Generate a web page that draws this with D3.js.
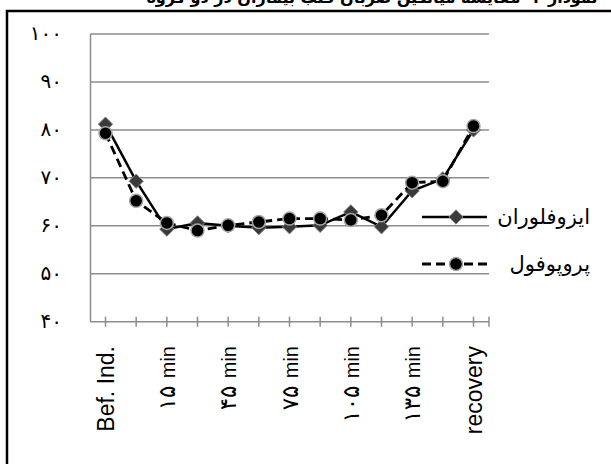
<!DOCTYPE html>
<html>
<head>
<meta charset="utf-8">
<script src="https://cdn.jsdelivr.net/npm/d3@7"></script>
<style>
  body { margin: 0; background: #fff; }
  svg { display: block; }
</style>
</head>
<body>
<div id="chart"></div>
<script>
// Data
var categories = ["Bef. Ind.", "Aft. Ind.", "۱۵ min", "۳۰ min", "۴۵ min", "۶۰ min", "۷۵ min",
  "۹۰ min", "۱۰۵ min", "۱۲۰ min", "۱۳۵ min", "۱۵۰ min", "recovery"];
var isoflurane = [81.2, 69.3, 59.3, 60.6, 60.0, 59.6, 59.8, 60.1, 62.9, 59.8, 67.3, 69.8, 80.0];
var propofol = [79.3, 65.2, 60.6, 59.0, 60.1, 60.8, 61.5, 61.5, 61.2, 62.2, 69.0, 69.3, 80.8];
var seriesNames = ["ایزوفلوران", "پروپوفول"];
var yTicks = [40, 50, 60, 70, 80, 90, 100];
var chartTitle = "نمودار ۲- مقایسه میانگین ضربان قلب بیماران در دو گروه";

var svgWidth = 611;
var svgHeight = 464;

var svg = d3.select("#chart")
  .append("svg")
  .attr("width", svgWidth)
  .attr("height", svgHeight);

// plot area
var plotLeft = 90.5, plotRight = 489, plotTop = 34, plotBottom = 321.7;

var xScale = d3.scalePoint()
  .domain(categories)
  .range([105.5, 473.5]);

var yScale = d3.scaleLinear()
  .domain([40, 100])
  .range([plotBottom, plotTop]);

function toPersian(s) {
  return String(s).replace(/[0-9]/g, function(d) { return "۰۱۲۳۴۵۶۷۸۹"[+d]; });
}

// title, cut off at the top of the frame as in the source
svg.append("text")
  .attr("x", 372)
  .attr("y", 3)
  .attr("text-anchor", "middle")
  .style("font-family", "DejaVu Sans")
  .style("font-weight", "bold")
  .style("font-size", "16px")
  .text(chartTitle);

// outer chart border (only top and left show)
svg.append("path")
  .attr("d", "M7,464 L7,11 L611,11")
  .attr("fill", "none")
  .attr("stroke", "#000")
  .attr("stroke-width", 2.5);

// gridlines
svg.append("g")
  .selectAll("line")
  .data(yTicks.slice(1))
  .enter()
  .append("line")
  .attr("x1", plotLeft)
  .attr("x2", plotRight)
  .attr("y1", d => yScale(d))
  .attr("y2", d => yScale(d))
  .attr("stroke", "#8c8c8c")
  .attr("stroke-width", 1.5);

// y axis line
svg.append("line")
  .attr("x1", plotLeft).attr("x2", plotLeft)
  .attr("y1", plotTop).attr("y2", plotBottom)
  .attr("stroke", "#8c8c8c")
  .attr("stroke-width", 1.5);

// y tick labels
svg.append("g")
  .selectAll("text")
  .data(yTicks)
  .enter()
  .append("text")
  .attr("x", 62)
  .attr("y", d => yScale(d) + 6)
  .attr("text-anchor", "end")
  .style("font-family", "DejaVu Sans")
  .style("font-size", "20px")
  .text(d => toPersian(d));

// x axis
var xAxis = svg.append("g")
  .attr("transform", `translate(0, ${plotBottom})`);

xAxis.append("line")
  .attr("x1", plotLeft).attr("x2", plotRight)
  .attr("stroke", "#8c8c8c")
  .attr("stroke-width", 1.5);

xAxis.selectAll(".tk")
  .data(categories)
  .enter()
  .append("line")
  .attr("class", "tk")
  .attr("x1", d => xScale(d)).attr("x2", d => xScale(d))
  .attr("y1", -5).attr("y2", 5)
  .attr("stroke", "#8c8c8c")
  .attr("stroke-width", 1.5);

xAxis.append("line")
  .attr("x1", plotRight).attr("x2", plotRight)
  .attr("y1", -5).attr("y2", 5)
  .attr("stroke", "#8c8c8c")
  .attr("stroke-width", 1.5);

// x labels, every other one
var xLabels = svg.append("g")
  .selectAll("text")
  .data(categories.filter((d, i) => i % 2 === 0))
  .enter()
  .append("text")
  .attr("transform", d => `translate(${xScale(d) + 8}, 346) rotate(-90)`)
  .attr("text-anchor", "end")
  .style("font-family", "Liberation Sans")
  .style("font-size", "23px");

xLabels.each(function(d) {
  var t = d3.select(this);
  var m = d.match(/^([۰-۹]+) (.*)$/);
  if (m) {
    t.append("tspan")
      .style("font-family", "DejaVu Sans")
      .style("font-size", "23px")
      .text(m[1] + " ");
    t.append("tspan")
      .style("font-size", "20px")
      .text(m[2]);
  } else {
    t.text(d);
  }
});

// lines
var lineGen = d3.line()
  .x((d, i) => xScale(categories[i]))
  .y(d => yScale(d));

svg.append("path")
  .datum(isoflurane)
  .attr("d", lineGen)
  .attr("fill", "none")
  .attr("stroke", "#000")
  .attr("stroke-width", 2.5);

svg.append("g")
  .selectAll("path")
  .data(isoflurane)
  .enter()
  .append("path")
  .attr("d", d3.symbol().type(d3.symbolDiamond2).size(130))
  .attr("transform", (d, i) => `translate(${xScale(categories[i])}, ${yScale(d)})`)
  .attr("fill", "#3a3a3a")
  .attr("stroke", "#808080")
  .attr("stroke-width", 1);

svg.append("path")
  .datum(propofol)
  .attr("d", lineGen)
  .attr("fill", "none")
  .attr("stroke", "#000")
  .attr("stroke-width", 2.8)
  .attr("stroke-dasharray", "9,5");

svg.append("g")
  .selectAll("circle")
  .data(propofol)
  .enter()
  .append("circle")
  .attr("cx", (d, i) => xScale(categories[i]))
  .attr("cy", d => yScale(d))
  .attr("r", 6.5)
  .attr("fill", "#000")
  .attr("stroke", "#a6a6a6")
  .attr("stroke-width", 1.5);

// legend
var legend = svg.append("g");

legend.append("line")
  .attr("x1", 422).attr("x2", 487)
  .attr("y1", 217).attr("y2", 217)
  .attr("stroke", "#000")
  .attr("stroke-width", 2.5);
legend.append("path")
  .attr("d", d3.symbol().type(d3.symbolDiamond2).size(130))
  .attr("transform", "translate(456, 217)")
  .attr("fill", "#3a3a3a")
  .attr("stroke", "#808080");
legend.append("text")
  .attr("x", 590).attr("y", 224)
  .attr("text-anchor", "end")
  .style("font-family", "DejaVu Sans")
  .style("font-size", "21px")
  .text(seriesNames[0]);

legend.append("line")
  .attr("x1", 422).attr("x2", 487)
  .attr("y1", 264).attr("y2", 264)
  .attr("stroke", "#000")
  .attr("stroke-width", 2.8)
  .attr("stroke-dasharray", "9,5");
legend.append("circle")
  .attr("cx", 456).attr("cy", 264)
  .attr("r", 6.5)
  .attr("fill", "#000")
  .attr("stroke", "#a6a6a6")
  .attr("stroke-width", 1.5);
legend.append("text")
  .attr("x", 590).attr("y", 271)
  .attr("text-anchor", "end")
  .style("font-family", "DejaVu Sans")
  .style("font-size", "21px")
  .text(seriesNames[1]);
</script>
</body>
</html>
